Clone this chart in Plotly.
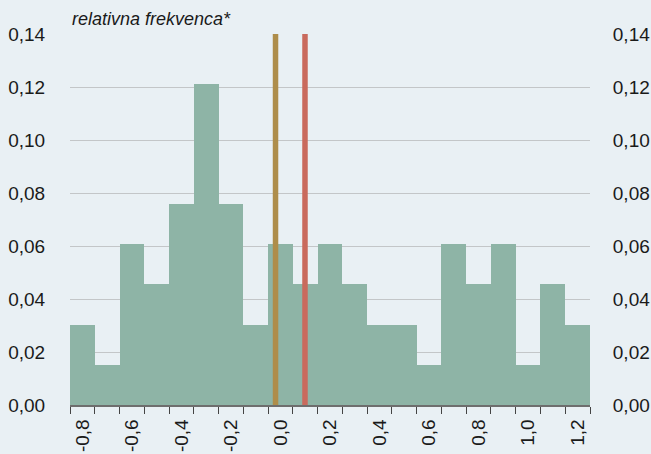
import numpy as np
import plotly.graph_objects as go

# data
bin_centers = [-0.8, -0.7, -0.6, -0.5, -0.4, -0.3, -0.2, -0.1, 0.0, 0.1, 0.2,
               0.3, 0.4, 0.5, 0.6, 0.7, 0.8, 0.9, 1.0, 1.1, 1.2]
rel_freq = [0.0303, 0.0152, 0.0606, 0.0455, 0.0758, 0.1212, 0.0758, 0.0303,
            0.0606, 0.0455, 0.0606, 0.0455, 0.0303, 0.0303, 0.0152, 0.0606,
            0.0455, 0.0606, 0.0152, 0.0455, 0.0303]
x_tick_vals = [-0.8, -0.6, -0.4, -0.2, 0.0, 0.2, 0.4, 0.6, 0.8, 1.0, 1.2]
x_tick_labels = ["-0,8", "-0,6", "-0,4", "-0,2", "0,0", "0,2", "0,4", "0,6", "0,8", "1,0", "1,2"]
y_tick_vals = [0.0, 0.02, 0.04, 0.06, 0.08, 0.10, 0.12, 0.14]
y_tick_labels = ["0,00", "0,02", "0,04", "0,06", "0,08", "0,10", "0,12", "0,14"]
vline_values = [-0.02, 0.099]
vline_colors = ["#AE8D4A", "#C96A5D"]

BIN_W = 0.1
bg = "#E9F0F4"
font_family = "Liberation Sans Narrow, Arial Narrow, Liberation Sans, Arial, sans-serif"
boundaries = list(np.array(bin_centers) - BIN_W / 2) + [bin_centers[-1] + BIN_W / 2]

fig = go.Figure()
fig.add_trace(go.Bar(x=bin_centers, y=rel_freq, width=BIN_W,
                     marker=dict(color="#8EB4A6", line=dict(width=0)),
                     showlegend=False, hoverinfo="x+y"))
fig.add_trace(go.Scatter(x=[bin_centers[0]], y=[0], yaxis="y2", mode="markers",
                         marker=dict(opacity=0), showlegend=False, hoverinfo="skip"))

for v, c in zip(vline_values, vline_colors):
    fig.add_shape(type="line", xref="x", yref="y", x0=v, x1=v, y0=0, y1=y_tick_vals[-1],
                  line=dict(color=c, width=5.5), layer="above")

fig.update_layout(
    width=651, height=454,
    margin=dict(l=70, r=61, t=34, b=49, autoexpand=False),
    paper_bgcolor=bg, plot_bgcolor=bg,
    bargap=0,
    font=dict(family=font_family, size=19, color="#1a1a1a"),
    xaxis=dict(
        range=[boundaries[0], boundaries[-1]],
        tickvals=x_tick_vals, ticktext=x_tick_labels, tickangle=-90,
        ticks="outside", ticklen=5, tickcolor="rgba(0,0,0,0)",
        showgrid=False, zeroline=False, automargin=False,
        showline=True, linecolor="#6E6E6E", linewidth=1.5,
        minor=dict(tickvals=boundaries, ticks="outside", ticklen=7,
                   tickcolor="#444444", tickwidth=1, showgrid=False),
        tickfont=dict(size=19),
    ),
    yaxis=dict(
        range=[0, 0.14], tickvals=y_tick_vals, ticktext=y_tick_labels,
        ticks="outside", ticklen=20, tickcolor="rgba(0,0,0,0)",
        showgrid=True, gridcolor="#C3C6C8", gridwidth=1.2, zeroline=False,
        showline=False, automargin=False,
    ),
    yaxis2=dict(
        range=[0, 0.14], tickvals=y_tick_vals, ticktext=y_tick_labels,
        overlaying="y", side="right",
        ticks="outside", ticklen=18, tickcolor="rgba(0,0,0,0)",
        showgrid=False, zeroline=False, showline=False, automargin=False,
    ),
    annotations=[dict(text="<i>relativna frekvenca*</i>", xref="paper", yref="paper",
                      x=0, y=1, xanchor="left", yanchor="bottom", yshift=3,
                      showarrow=False, font=dict(size=18, family=font_family))],
)

fig.write_html("out.html", config={"displayModeBar": False},
               post_script="document.body.style.margin='0';")
